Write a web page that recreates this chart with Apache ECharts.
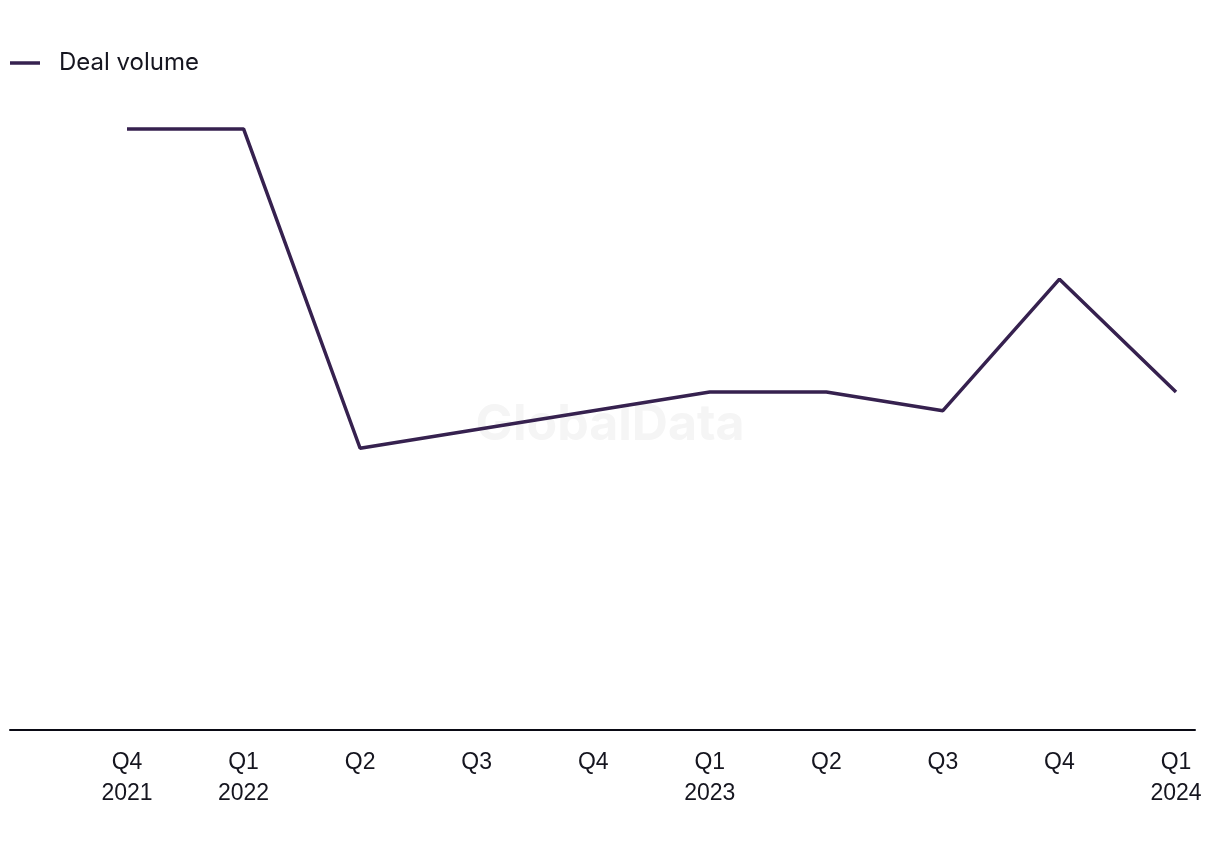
<!DOCTYPE html>
<html>
<head>
<meta charset="utf-8">
<script src="https://cdn.jsdelivr.net/npm/echarts@6/dist/echarts.min.js"></script>
<style>html,body{margin:0;padding:0;background:#fff}#c{width:1220px;height:850px}</style>
</head>
<body>
<div id="c"></div>
<script>
var categories = ['Q4\n2021','Q1\n2022','Q2','Q3','Q4','Q1\n2023','Q2','Q3','Q4','Q1\n2024'];
var dealVolume = [32, 32, 15, 16, 17, 18, 18, 17, 24, 18];
var seriesName = 'Deal volume';

var chart = echarts.init(document.getElementById('c'));
var lineColor = '#36214f';
var textColor = '#15151f';
chart.setOption({
  animation: false,
  backgroundColor: '#fff',
  graphic: [{
    type: 'text', left: 'center', top: 400, z: 0,
    style: { text: 'GlobalData', fontSize: 50, fontWeight: 'bold', fontFamily: 'Inter, Roboto, sans-serif', fill: '#f5f5f5' }
  }],
  legend: {
    data: [seriesName], left: 5, top: 46,
    icon: 'rect', itemWidth: 30, itemHeight: 3.5, itemGap: 10,
    textStyle: { fontSize: 24, color: textColor, fontFamily: 'Inter, Roboto, sans-serif', padding: [0, 0, 0, 14] }
  },
  grid: [
    { left: 10, right: 25, top: 72.6, bottom: 120 },
    { left: 127, right: 44, top: 72.6, bottom: 120 }
  ],
  xAxis: [
    { gridIndex: 0, type: 'category', data: categories, axisLine: { show: true, lineStyle: { color: '#0a0a14', width: 2 } }, axisTick: { show: false }, axisLabel: { show: false } },
    { gridIndex: 1, type: 'category', data: categories, boundaryGap: false,
      axisLine: { show: false }, axisTick: { show: false },
      axisLabel: { color: textColor, fontSize: 23, lineHeight: 31, margin: 17, fontFamily: 'Liberation Sans, Arial, sans-serif' } }
  ],
  yAxis: [
    { gridIndex: 0, type: 'value', min: 0, max: 35, show: false },
    { gridIndex: 1, type: 'value', min: 0, max: 35, show: false }
  ],
  series: [{
    name: seriesName, type: 'line', xAxisIndex: 1, yAxisIndex: 1,
    data: dealVolume, symbol: 'none', color: lineColor,
    lineStyle: { color: lineColor, width: 3.5 }, z: 5
  }]
});
</script>
</body>
</html>
